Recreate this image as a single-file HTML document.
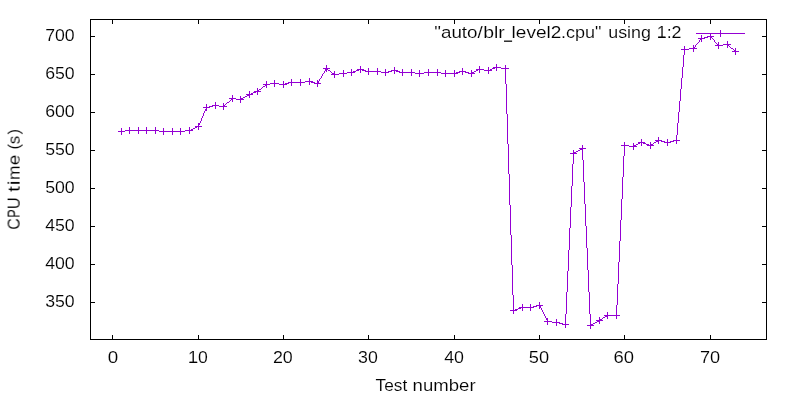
<!DOCTYPE html>
<html><head><meta charset="utf-8"><title>plot</title>
<style>
html,body{margin:0;padding:0;background:#fff;}
svg{display:block;}
text{font-family:"Liberation Sans",sans-serif;font-size:16.3px;fill:#000;stroke:#fff;stroke-width:0.12px;}
</style></head>
<body>
<svg width="800" height="400" viewBox="0 0 800 400">
<rect x="0" y="0" width="800" height="400" fill="#fff"/>
<g fill="#000" shape-rendering="crispEdges">
<rect x="90" y="19" width="677" height="1"/>
<rect x="90" y="339" width="677" height="1"/>
<rect x="90" y="19" width="1" height="321"/>
<rect x="766" y="19" width="1" height="321"/>
<rect x="112" y="335" width="1" height="4"/><rect x="112" y="20" width="1" height="4"/><rect x="198" y="335" width="1" height="4"/><rect x="198" y="20" width="1" height="4"/><rect x="283" y="335" width="1" height="4"/><rect x="283" y="20" width="1" height="4"/><rect x="368" y="335" width="1" height="4"/><rect x="368" y="20" width="1" height="4"/><rect x="454" y="335" width="1" height="4"/><rect x="454" y="20" width="1" height="4"/><rect x="539" y="335" width="1" height="4"/><rect x="539" y="20" width="1" height="4"/><rect x="624" y="335" width="1" height="4"/><rect x="624" y="20" width="1" height="4"/><rect x="710" y="335" width="1" height="4"/><rect x="710" y="20" width="1" height="4"/><rect x="91" y="36" width="4" height="1"/><rect x="762" y="36" width="4" height="1"/><rect x="91" y="74" width="4" height="1"/><rect x="762" y="74" width="4" height="1"/><rect x="91" y="112" width="4" height="1"/><rect x="762" y="112" width="4" height="1"/><rect x="91" y="150" width="4" height="1"/><rect x="762" y="150" width="4" height="1"/><rect x="91" y="188" width="4" height="1"/><rect x="762" y="188" width="4" height="1"/><rect x="91" y="226" width="4" height="1"/><rect x="762" y="226" width="4" height="1"/><rect x="91" y="264" width="4" height="1"/><rect x="762" y="264" width="4" height="1"/><rect x="91" y="302" width="4" height="1"/><rect x="762" y="302" width="4" height="1"/>
</g>
<g opacity="0.999">
<text x="74.7" y="40.7" text-anchor="end" textLength="29.5" lengthAdjust="spacingAndGlyphs">700</text><text x="74.7" y="78.7" text-anchor="end" textLength="29.5" lengthAdjust="spacingAndGlyphs">650</text><text x="74.7" y="116.7" text-anchor="end" textLength="29.5" lengthAdjust="spacingAndGlyphs">600</text><text x="74.7" y="154.7" text-anchor="end" textLength="29.5" lengthAdjust="spacingAndGlyphs">550</text><text x="74.7" y="192.7" text-anchor="end" textLength="29.5" lengthAdjust="spacingAndGlyphs">500</text><text x="74.7" y="230.7" text-anchor="end" textLength="29.5" lengthAdjust="spacingAndGlyphs">450</text><text x="74.7" y="268.7" text-anchor="end" textLength="29.5" lengthAdjust="spacingAndGlyphs">400</text><text x="74.7" y="306.7" text-anchor="end" textLength="29.5" lengthAdjust="spacingAndGlyphs">350</text><text x="107.68" y="363.0" textLength="10.46" lengthAdjust="spacingAndGlyphs">0</text><text x="188.1" y="363.0" textLength="19.61" lengthAdjust="spacingAndGlyphs">10</text><text x="272.95" y="363.0" textLength="19.87" lengthAdjust="spacingAndGlyphs">20</text><text x="358.05" y="363.0" textLength="19.77" lengthAdjust="spacingAndGlyphs">30</text><text x="444.15" y="363.0" textLength="19.83" lengthAdjust="spacingAndGlyphs">40</text><text x="528.82" y="363.0" textLength="20.32" lengthAdjust="spacingAndGlyphs">50</text><text x="613.53" y="363.0" textLength="20.49" lengthAdjust="spacingAndGlyphs">60</text><text x="699.94" y="363.0" textLength="20.22" lengthAdjust="spacingAndGlyphs">70</text><text x="375.53" y="391.0" textLength="31.69" lengthAdjust="spacingAndGlyphs">Test</text><text x="412.64" y="391.0" textLength="36.13" lengthAdjust="spacingAndGlyphs">num</text><text x="448.78" y="391.0" textLength="26.89" lengthAdjust="spacingAndGlyphs">ber</text><text x="434.31" y="37.8" textLength="48.47" lengthAdjust="spacingAndGlyphs">&quot;auto/</text><text x="483.17" y="37.8" textLength="21.61" lengthAdjust="spacingAndGlyphs">blr</text><text x="511.62" y="37.8" textLength="49.74" lengthAdjust="spacingAndGlyphs">level2</text><text x="560.92" y="37.8" textLength="40.38" lengthAdjust="spacingAndGlyphs">.cpu&quot;</text><text x="608.19" y="37.8" textLength="42.74" lengthAdjust="spacingAndGlyphs">using</text><text x="656.68" y="37.8" textLength="24.89" lengthAdjust="spacingAndGlyphs">1:2</text><rect x="658.2" y="36.6" width="7.0" height="1.2" fill="#000"/><rect x="189.7" y="361.8" width="7.6" height="1.2" fill="#000"/><rect x="504" y="40.55" width="8.1" height="1.25" fill="#000"/><g transform="translate(19.6,229) rotate(-90)" style="stroke:none"><text x="-0.78" y="0" textLength="11.58" lengthAdjust="spacingAndGlyphs">C</text><text x="11.3" y="0" textLength="8.49" lengthAdjust="spacingAndGlyphs">P</text><text x="19.67" y="0" textLength="12.03" lengthAdjust="spacingAndGlyphs">U</text><text x="36.95" y="0" textLength="5.92" lengthAdjust="spacingAndGlyphs">t</text><text x="43.46" y="0" textLength="5.14" lengthAdjust="spacingAndGlyphs">i</text><text x="48.95" y="0" textLength="14.47" lengthAdjust="spacingAndGlyphs">m</text><text x="63.66" y="0" textLength="10.63" lengthAdjust="spacingAndGlyphs">e</text><text x="79.45" y="0" textLength="5.54" lengthAdjust="spacingAndGlyphs">(</text><text x="84.78" y="0" textLength="8.55" lengthAdjust="spacingAndGlyphs">s</text><text x="94.61" y="0" textLength="5.56" lengthAdjust="spacingAndGlyphs">)</text></g>
</g>
<path fill="#9400d3" shape-rendering="crispEdges" d="M720 30h1v7h-1zM696 33h24v1h-24zM721 33h24v1h-24zM710 34h1v6h-1zM701 35h1v7h-1zM707 36h3v1h-3zM711 36h3v1h-3zM704 37h4v1h-4zM711 37h1v1h-1zM698 38h3v1h-3zM702 38h3v1h-3zM712 38h1v1h-1zM700 39h1v1h-1zM713 39h1v1h-1zM699 40h1v2h-1zM714 40h1v2h-1zM727 41h1v7h-1zM698 42h1v1h-1zM715 42h1v1h-1zM718 42h1v7h-1zM697 43h1v1h-1zM716 43h1v1h-1zM696 44h1v1h-1zM717 44h1v2h-1zM723 44h4v1h-4zM728 44h3v1h-3zM693 45h1v7h-1zM695 45h1v2h-1zM715 45h2v1h-2zM719 45h4v1h-4zM728 45h1v1h-1zM684 46h1v9h-1zM729 46h1v1h-1zM694 47h1v2h-1zM730 47h1v1h-1zM689 48h4v1h-4zM695 48h2v1h-2zM731 48h2v1h-2zM735 48h1v7h-1zM681 49h3v1h-3zM685 49h4v1h-4zM733 49h1v1h-1zM734 50h1v2h-1zM732 51h2v1h-2zM736 51h3v1h-3zM683 55h1v12h-1zM496 64h1v7h-1zM326 65h1v7h-1zM505 65h1v19h-1zM360 66h1v7h-1zM479 66h1v7h-1zM394 67h1v7h-1zM488 67h1v7h-1zM493 67h3v1h-3zM497 67h4v1h-4zM682 67h1v11h-1zM323 68h3v1h-3zM327 68h3v1h-3zM368 68h1v7h-1zM377 68h1v7h-1zM462 68h1v7h-1zM492 68h3v1h-3zM501 68h4v1h-4zM506 68h3v1h-3zM325 69h1v2h-1zM327 69h1v1h-1zM351 69h1v7h-1zM357 69h3v1h-3zM361 69h3v1h-3zM385 69h1v7h-1zM402 69h1v7h-1zM411 69h1v7h-1zM428 69h1v7h-1zM437 69h1v7h-1zM476 69h3v1h-3zM480 69h4v1h-4zM490 69h2v2h-2zM328 70h2v1h-2zM343 70h1v7h-1zM356 70h3v1h-3zM362 70h4v1h-4zM391 70h3v1h-3zM395 70h3v1h-3zM419 70h1v7h-1zM445 70h1v7h-1zM454 70h1v7h-1zM471 70h1v7h-1zM476 70h2v1h-2zM484 70h4v1h-4zM489 70h1v1h-1zM324 71h1v2h-1zM330 71h1v1h-1zM334 71h1v7h-1zM353 71h3v1h-3zM365 71h3v1h-3zM369 71h8v1h-8zM378 71h3v1h-3zM388 71h4v1h-4zM396 71h4v1h-4zM459 71h3v1h-3zM463 71h3v1h-3zM474 71h2v1h-2zM331 72h1v1h-1zM347 72h4v1h-4zM352 72h3v1h-3zM381 72h4v1h-4zM386 72h3v1h-3zM399 72h3v1h-3zM403 72h8v1h-8zM412 72h3v1h-3zM424 72h4v1h-4zM429 72h8v1h-8zM438 72h3v1h-3zM456 72h4v1h-4zM465 72h4v1h-4zM472 72h2v2h-2zM323 73h1v1h-1zM332 73h2v2h-2zM339 73h4v1h-4zM344 73h3v1h-3zM415 73h4v1h-4zM420 73h4v1h-4zM441 73h4v1h-4zM446 73h8v1h-8zM455 73h3v1h-3zM468 73h3v1h-3zM474 73h1v1h-1zM322 74h1v2h-1zM331 74h1v1h-1zM335 74h4v1h-4zM321 76h1v2h-1zM309 78h1v7h-1zM320 78h1v1h-1zM681 78h1v11h-1zM291 79h1v7h-1zM300 79h1v7h-1zM319 79h1v2h-1zM274 80h1v7h-1zM317 80h1v7h-1zM266 81h1v7h-1zM283 81h1v7h-1zM305 81h4v1h-4zM310 81h3v1h-3zM318 81h1v3h-1zM288 82h3v1h-3zM292 82h8v1h-8zM301 82h4v1h-4zM311 82h4v1h-4zM270 83h4v1h-4zM275 83h4v1h-4zM285 83h4v1h-4zM314 83h3v1h-3zM319 83h2v1h-2zM263 84h3v1h-3zM267 84h3v1h-3zM279 84h4v1h-4zM284 84h3v1h-3zM506 84h1v30h-1zM265 85h1v1h-1zM263 86h2v1h-2zM262 87h1v1h-1zM257 88h1v7h-1zM261 88h1v1h-1zM259 89h2v1h-2zM680 89h1v12h-1zM258 90h1v2h-1zM249 91h1v7h-1zM254 91h3v1h-3zM259 91h2v1h-2zM253 92h3v1h-3zM251 93h2v2h-2zM246 94h3v1h-3zM250 94h1v1h-1zM232 95h1v7h-1zM247 95h2v1h-2zM240 96h1v7h-1zM245 96h2v1h-2zM243 97h2v1h-2zM229 98h3v1h-3zM233 98h3v1h-3zM241 98h2v2h-2zM231 99h1v1h-1zM236 99h4v1h-4zM243 99h1v1h-1zM230 100h1v1h-1zM229 101h1v1h-1zM679 101h1v11h-1zM215 102h1v7h-1zM227 102h2v1h-2zM223 103h1v7h-1zM226 103h1v1h-1zM206 104h1v7h-1zM225 104h1v1h-1zM212 105h3v1h-3zM216 105h3v1h-3zM224 105h1v2h-1zM209 106h4v1h-4zM219 106h4v1h-4zM225 106h2v1h-2zM203 107h3v1h-3zM207 107h3v1h-3zM205 109h1v2h-1zM204 111h1v2h-1zM678 112h1v11h-1zM203 113h1v3h-1zM507 114h1v30h-1zM202 116h1v2h-1zM201 118h1v3h-1zM200 121h1v2h-1zM198 123h2v2h-2zM677 123h1v12h-1zM198 125h1v5h-1zM195 126h3v1h-3zM199 126h3v1h-3zM129 127h1v7h-1zM138 127h1v7h-1zM146 127h1v7h-1zM155 127h1v7h-1zM189 127h1v7h-1zM195 127h2v1h-2zM121 128h1v7h-1zM163 128h1v7h-1zM172 128h1v7h-1zM180 128h1v7h-1zM193 128h2v1h-2zM191 129h2v2h-2zM125 130h4v1h-4zM130 130h8v1h-8zM139 130h7v1h-7zM147 130h8v1h-8zM156 130h3v1h-3zM185 130h4v1h-4zM190 130h1v1h-1zM118 131h3v1h-3zM122 131h3v1h-3zM159 131h4v1h-4zM164 131h8v1h-8zM173 131h7v1h-7zM181 131h4v1h-4zM676 135h1v9h-1zM658 137h1v7h-1zM641 139h1v7h-1zM667 139h1v7h-1zM655 140h3v1h-3zM659 140h3v1h-3zM673 140h3v1h-3zM677 140h3v1h-3zM656 141h2v1h-2zM661 141h4v1h-4zM670 141h4v1h-4zM624 142h1v14h-1zM638 142h3v1h-3zM642 142h3v1h-3zM650 142h1v7h-1zM654 142h2v1h-2zM664 142h3v1h-3zM668 142h3v1h-3zM633 143h1v7h-1zM638 143h2v1h-2zM643 143h3v1h-3zM653 143h1v1h-1zM508 144h1v30h-1zM636 144h2v1h-2zM646 144h3v1h-3zM651 144h2v2h-2zM582 145h1v15h-1zM621 145h3v1h-3zM625 145h4v1h-4zM634 145h2v2h-2zM647 145h3v1h-3zM653 145h1v1h-1zM629 146h4v1h-4zM636 146h1v1h-1zM579 148h3v1h-3zM583 148h3v1h-3zM580 149h2v1h-2zM573 150h1v14h-1zM578 150h2v1h-2zM576 151h2v1h-2zM574 152h2v2h-2zM570 153h3v1h-3zM576 153h1v1h-1zM623 156h1v21h-1zM583 160h1v22h-1zM572 164h1v22h-1zM509 174h1v31h-1zM622 177h1v22h-1zM584 182h1v22h-1zM571 186h1v21h-1zM621 199h1v21h-1zM585 204h1v22h-1zM510 205h1v30h-1zM570 207h1v21h-1zM620 220h1v21h-1zM586 226h1v22h-1zM569 228h1v22h-1zM511 235h1v30h-1zM619 241h1v21h-1zM587 248h1v22h-1zM568 250h1v21h-1zM618 262h1v22h-1zM512 265h1v30h-1zM588 270h1v22h-1zM567 271h1v21h-1zM617 284h1v21h-1zM566 292h1v22h-1zM589 292h1v22h-1zM513 295h1v19h-1zM539 302h1v7h-1zM522 304h1v7h-1zM530 304h1v7h-1zM536 305h3v1h-3zM540 305h3v1h-3zM616 305h1v14h-1zM533 306h4v1h-4zM540 306h1v2h-1zM519 307h3v1h-3zM523 307h7v1h-7zM531 307h3v1h-3zM518 308h3v1h-3zM541 308h1v2h-1zM515 309h3v1h-3zM510 310h3v1h-3zM514 310h3v1h-3zM542 310h1v2h-1zM543 312h1v2h-1zM607 312h1v7h-1zM544 314h1v2h-1zM565 314h1v14h-1zM590 314h1v15h-1zM604 315h3v1h-3zM608 315h8v1h-8zM617 315h3v1h-3zM545 316h1v2h-1zM605 316h2v1h-2zM599 317h1v7h-1zM603 317h2v1h-2zM546 318h2v2h-2zM602 318h1v1h-1zM556 319h1v7h-1zM600 319h2v2h-2zM547 320h1v5h-1zM596 320h3v1h-3zM602 320h1v1h-1zM544 321h3v1h-3zM548 321h4v1h-4zM597 321h2v1h-2zM552 322h4v1h-4zM557 322h3v1h-3zM595 322h2v1h-2zM559 323h4v1h-4zM593 323h2v1h-2zM562 324h3v1h-3zM566 324h3v1h-3zM591 324h2v2h-2zM587 325h3v1h-3zM593 325h1v1h-1z"/>
</svg>
</body></html>
